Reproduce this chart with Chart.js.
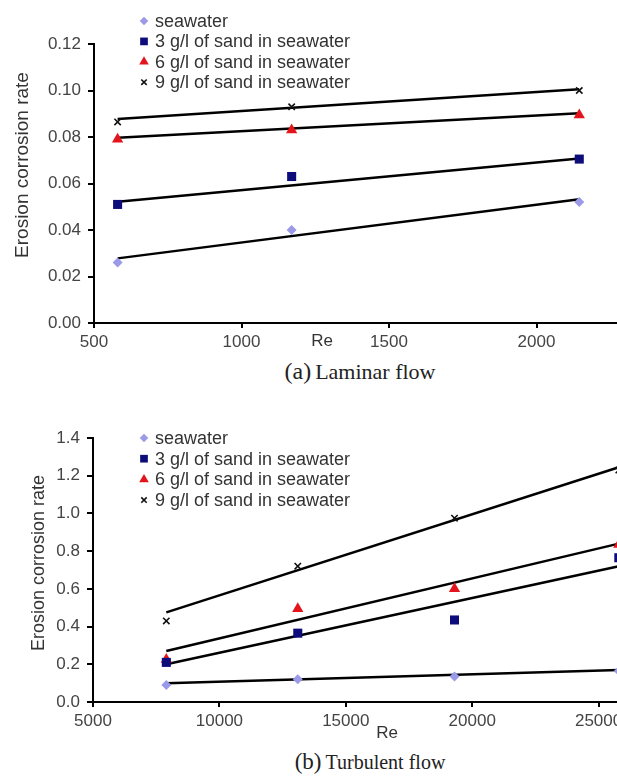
<!DOCTYPE html>
<html>
<head>
<meta charset="utf-8">
<script src="https://cdn.jsdelivr.net/npm/chart.js"></script>
<style>
  html, body { margin: 0; padding: 0; background: #fff; }
  body { width: 617px; height: 776px; overflow: hidden; position: relative; }
  canvas { position: absolute; left: 0; }
  .caption {
    position: absolute;
    font-family: 'Liberation Serif', 'Times New Roman', serif;
    color: #222;
    white-space: nowrap;
    transform: translate(-50%, -50%);
  }
</style>
</head>
<body>
<canvas id="laminar" width="760" height="355" style="top:0px"></canvas>
<canvas id="turbulent" width="760" height="345" style="top:400px"></canvas>
<div class="caption" style="left:360px; top:371px"><span style="font-size:24px">(a)</span> <span style="font-size:22px">Laminar flow</span></div>
<div class="caption" style="left:370px; top:762px"><span style="font-size:23px">(b)</span> <span style="font-size:20px">Turbulent flow</span></div>
<script>
// series names (same for both panels)
const seriesLabels = ['seawater', '3 g/l of sand in seawater', '6 g/l of sand in seawater', '9 g/l of sand in seawater'];

// (a) laminar flow
const laminarRe = [580, 1170, 2145];
const laminarSeawater = [0.026, 0.040, 0.052];
const laminarSand3 = [0.051, 0.063, 0.0705];
const laminarSand6 = [0.079, 0.083, 0.0895];
const laminarSand9 = [0.0865, 0.093, 0.100];
// trend line end points, read at first and last Re
const laminarTrendRe = [580, 2145];
const laminarTrendSeawater = [0.0278, 0.0532];
const laminarTrendSand3 = [0.0522, 0.0708];
const laminarTrendSand6 = [0.0797, 0.0902];
const laminarTrendSand9 = [0.0877, 0.1005];
const laminarYTicks = [0, 0.02, 0.04, 0.06, 0.08, 0.10, 0.12];
const laminarXTicks = [500, 1000, 1500, 2000];

// (b) turbulent flow
const turbulentRe = [7900, 13100, 19300, 25800];
const turbulentSeawater = [0.09, 0.12, 0.135, 0.165];
const turbulentSand3 = [0.21, 0.365, 0.435, 0.765];
const turbulentSand6 = [0.225, 0.495, 0.60, 0.835];
const turbulentSand9 = [0.43, 0.72, 0.975, 1.23];
const turbulentTrendRe = [7900, 25800];
const turbulentTrendSeawater = [0.10, 0.17];
const turbulentTrendSand3 = [0.20, 0.72];
const turbulentTrendSand6 = [0.27, 0.84];
const turbulentTrendSand9 = [0.475, 1.245];
const turbulentYTicks = [0, 0.2, 0.4, 0.6, 0.8, 1.0, 1.2, 1.4];
const turbulentXTicks = [5000, 10000, 15000, 20000, 25000];

const markerStyles = [
  { pointStyle: 'rectRot', radius: 5, color: '#9a9ae8', border: 0 },
  { pointStyle: 'rect', radius: 6.4, color: '#0c0c7a', border: 0 },
  { pointStyle: 'triangle', radius: 6.5, color: '#e4141c', border: 0 },
  { pointStyle: 'crossRot', radius: 4.5, color: '#111111', border: 1.6 }
];

Chart.defaults.font.family = "'Liberation Sans', Arial, sans-serif";

// legend, y title and the "Re" label are drawn by hand to sit where the original has them
const panelText = {
  id: 'panelText',
  afterDraw(chart, args, opts) {
    const ctx = chart.ctx;
    ctx.save();
    chart.data.datasets.filter(d => !d.isTrend).forEach((d, i) => {
      const y = opts.legendY + i * opts.legendStep;
      ctx.fillStyle = d.backgroundColor;
      ctx.strokeStyle = d.borderColor;
      ctx.lineWidth = d.borderWidth;
      Chart.helpers.drawPoint(ctx, {
        pointStyle: d.pointStyle,
        rotation: 0,
        radius: d.legendRadius,
        borderWidth: d.borderWidth
      }, opts.legendX, y);
      ctx.fillStyle = '#333';
      ctx.font = opts.legendFont + "px 'Liberation Sans', Arial, sans-serif";
      ctx.textAlign = 'left';
      ctx.textBaseline = 'middle';
      ctx.fillText(d.label, opts.legendX + 11, y + 1);
    });

    ctx.fillStyle = '#333';
    ctx.font = opts.titleFont + "px 'Liberation Sans', Arial, sans-serif";
    ctx.textAlign = 'center';
    ctx.textBaseline = 'middle';
    ctx.translate(opts.yTitleX, opts.yTitleY);
    ctx.rotate(-Math.PI / 2);
    ctx.fillText('Erosion corrosion rate', 0, 0);
    ctx.setTransform(1, 0, 0, 1, 0, 0);

    ctx.font = opts.reFont + "px 'Liberation Sans', Arial, sans-serif";
    ctx.fillText('Re', opts.reX, opts.reY);
    ctx.restore();
  }
};

function buildDatasets(xs, series, trendXs, trends) {
  const pts = series.map((vals, i) => ({
    label: seriesLabels[i],
    data: xs.map((x, j) => ({ x: x, y: vals[j] })),
    pointStyle: markerStyles[i].pointStyle,
    pointRadius: markerStyles[i].radius,
    legendRadius: markerStyles[i].radius * 0.85,
    backgroundColor: markerStyles[i].color,
    borderColor: markerStyles[i].color,
    borderWidth: markerStyles[i].border,
    showLine: false,
    order: 0
  }));
  const lines = trends.map(t => ({
    isTrend: true,
    data: trendXs.map((x, j) => ({ x: x, y: t[j] })),
    showLine: true,
    borderColor: '#000',
    borderWidth: 2.5,
    pointRadius: 0,
    order: 1
  }));
  return pts.concat(lines);
}

function makePanel(id, p) {
  return new Chart(document.getElementById(id), {
    type: 'scatter',
    data: { datasets: buildDatasets(p.xs, p.series, p.trendXs, p.trends) },
    plugins: [panelText],
    options: {
      responsive: false,
      animation: false,
      devicePixelRatio: 1,
      layout: { padding: { top: p.padTop, right: p.padRight, left: 0, bottom: 0 } },
      plugins: {
        legend: { display: false },
        tooltip: { enabled: false },
        panelText: p.text
      },
      scales: {
        x: {
          type: 'linear',
          min: p.xMin,
          max: p.xMax,
          afterBuildTicks: s => { s.ticks = p.xTicks.map(v => ({ value: v })); },
          afterFit: s => { s.height = p.xHeight; },
          ticks: { color: '#444', font: { size: 17 }, padding: 4, maxRotation: 0, callback: v => String(v) },
          grid: { drawOnChartArea: false, drawTicks: true, tickLength: 5, color: '#000', lineWidth: 2 },
          border: { display: true, color: '#000', width: 2 }
        },
        y: {
          min: p.yMin,
          max: p.yMax,
          afterBuildTicks: s => { s.ticks = p.yTicks.map(v => ({ value: v })); },
          afterFit: s => { s.width = p.yWidth; },
          ticks: { color: '#444', font: { size: 17 }, padding: 7, callback: v => v.toFixed(p.decimals) },
          grid: { drawOnChartArea: false, drawTicks: true, tickLength: 6, color: '#000', lineWidth: 2 },
          border: { display: true, color: '#000', width: 2 }
        }
      }
    }
  });
}

makePanel('laminar', {
  xs: laminarRe,
  series: [laminarSeawater, laminarSand3, laminarSand6, laminarSand9],
  trendXs: laminarTrendRe,
  trends: [laminarTrendSeawater, laminarTrendSand3, laminarTrendSand6, laminarTrendSand9],
  xMin: 500, xMax: 2500, xTicks: laminarXTicks,
  yMin: 0, yMax: 0.12, yTicks: laminarYTicks, decimals: 2,
  padTop: 44, padRight: 76, xHeight: 32, yWidth: 94,
  text: { legendX: 144, legendY: 21, legendStep: 20.4, legendFont: 18, titleFont: 19,
          yTitleX: 23, yTitleY: 165, reFont: 17, reX: 322, reY: 341 }
});

makePanel('turbulent', {
  xs: turbulentRe,
  series: [turbulentSeawater, turbulentSand3, turbulentSand6, turbulentSand9],
  trendXs: turbulentTrendRe,
  trends: [turbulentTrendSeawater, turbulentTrendSand3, turbulentTrendSand6, turbulentTrendSand9],
  xMin: 5000, xMax: 30000, xTicks: turbulentXTicks,
  yMin: 0, yMax: 1.4, yTicks: turbulentYTicks, decimals: 1,
  padTop: 38, padRight: 35, xHeight: 43, yWidth: 93,
  text: { legendX: 144, legendY: 38, legendStep: 20.7, legendFont: 18, titleFont: 18,
          yTitleX: 39, yTitleY: 163, reFont: 17, reX: 387, reY: 333 }
});
</script>
</body>
</html>
